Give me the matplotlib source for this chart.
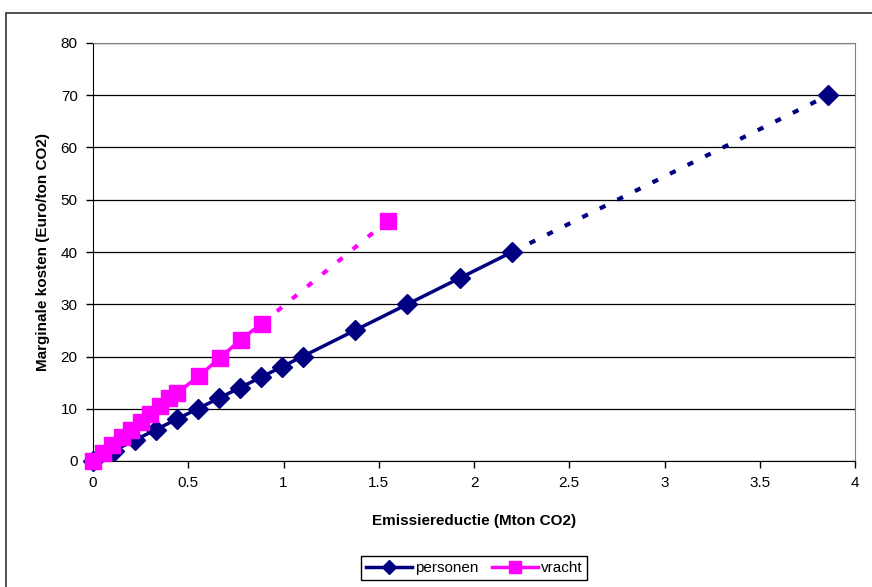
import matplotlib.pyplot as plt
import numpy as np
from matplotlib.patches import Rectangle

plt.rcParams['font.family'] = ['Liberation Sans', 'DejaVu Sans']

# personen: solid part and dashed extrapolation
pers_x = [0, 0.11, 0.22, 0.33, 0.44, 0.55, 0.66, 0.77, 0.88, 0.99, 1.10, 1.375, 1.65, 1.925, 2.2]
pers_y = [0, 2, 4, 6, 8, 10, 12, 14, 16, 18, 20, 25, 30, 35, 40]
pers_ext_x = [2.2, 3.86]
pers_ext_y = [40, 70]

# vracht: solid part and dashed extrapolation
vracht_x = [0, 0.05, 0.10, 0.15, 0.20, 0.25, 0.30, 0.35, 0.40, 0.44, 0.555, 0.665, 0.775, 0.886]
vracht_y = [0, 1.5, 3.0, 4.5, 6.0, 7.5, 9.0, 10.5, 12.0, 13.0, 16.2, 19.7, 23.2, 26.3]
vracht_ext_x = [0.886, 1.548]
vracht_ext_y = [26.3, 46]

xticks = [0, 0.5, 1, 1.5, 2, 2.5, 3, 3.5, 4]
xticklabels = ['0', '0.5', '1', '1.5', '2', '2.5', '3', '3.5', '4']
yticks = [0, 10, 20, 30, 40, 50, 60, 70, 80]

navy = '#000080'
magenta = '#FF00FF'

fig = plt.figure(figsize=(8.72, 5.87), dpi=100)
W, H = 872, 587
ax = fig.add_axes([93 / W, 1 - 461 / H, 762 / W, 418 / H])

# outer chart frame (runs off the right/bottom edge)
fig.patches.append(Rectangle((5.5 / W, -0.1), 1.2, 1.1 - 12.5 / H, transform=fig.transFigure,
                             fill=False, edgecolor='#333333', linewidth=1.2))

dash = (0, (1.5, 3.2))
ax.plot(pers_ext_x, pers_ext_y, color=navy, lw=3.0, linestyle=dash, dash_capstyle='butt')
ax.plot(vracht_ext_x, vracht_ext_y, color=magenta, lw=3.0, linestyle=dash, dash_capstyle='butt')

l1, = ax.plot(pers_x, pers_y, color=navy, lw=2.5, marker='D', markersize=10, label='personen',
              zorder=3, clip_on=False)
ax.plot(pers_ext_x[-1:], pers_ext_y[-1:], color=navy, marker='D', markersize=10, linestyle='none', zorder=3)
l2, = ax.plot(vracht_x, vracht_y, color=magenta, lw=2.5, marker='s', markersize=11.5, label='vracht',
              zorder=4, clip_on=False)
ax.plot(vracht_ext_x[-1:], vracht_ext_y[-1:], color=magenta, marker='s', markersize=11.5, linestyle='none', zorder=4)

ax.set_xlim(0, 4)
ax.set_ylim(0, 80)
ax.set_xticks(xticks)
ax.set_xticklabels(xticklabels)
ax.set_yticks(yticks)
ax.grid(axis='y', color='black', linewidth=0.9)
ax.set_axisbelow(True)
for s in ['top', 'right']:
    ax.spines[s].set_color('#808080')
for s in ['left', 'bottom']:
    ax.spines[s].set_color('black')
ax.tick_params(direction='out', length=5, width=1, labelsize=11, pad=6)

ax.set_xlabel('Emissiereductie (Mton CO2)', fontsize=11, fontweight='bold', labelpad=17)
ax.set_ylabel('Marginale kosten (Euro/ton CO2)', fontsize=11, fontweight='bold', labelpad=8)

fig.legend(handles=[l1, l2], loc='center', bbox_to_anchor=(474 / W, 1 - 568 / H), ncol=2,
           fontsize=11, frameon=True, fancybox=False, edgecolor='black', framealpha=1,
           handlelength=3.0, handletextpad=0.2, columnspacing=0.9, borderpad=0.3,
           markerscale=0.7)

fig.savefig('out.png', dpi=100)
